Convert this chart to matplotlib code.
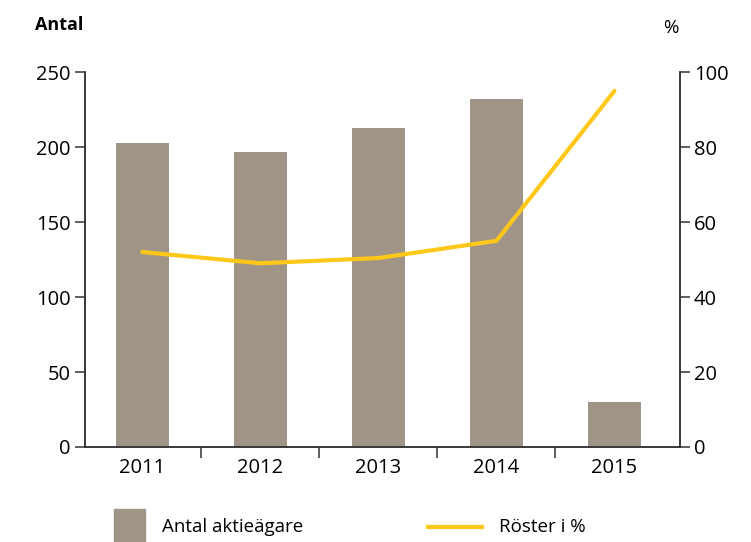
import matplotlib
matplotlib.use("Agg")
import matplotlib.pyplot as plt
from matplotlib.patches import Rectangle
from matplotlib.lines import Line2D
import numpy as np

plt.rcParams['font.family'] = ['Open Sans', 'DejaVu Sans']

years = ['2011', '2012', '2013', '2014', '2015']
antal = [203, 197, 213, 232, 30]
roster = [52, 49, 50.4, 55, 95]

bar_color = '#A09486'
line_color = '#FFC819'
spine_color = '#333333'

fig = plt.figure(figsize=(7.51, 5.42), dpi=100)
ax = fig.add_axes([0.113, 0.1753, 0.7925, 0.6917])
x = np.arange(len(years))
ax.bar(x, antal, width=0.45, color=bar_color, zorder=1)
ax.set_xlim(-0.487, len(years) - 0.445)
ax.set_ylim(0, 250)
ax.set_yticks([0, 50, 100, 150, 200, 250])

ax2 = ax.twinx()
ax2.plot(x, roster, color=line_color, lw=3, solid_capstyle='round',
         solid_joinstyle='miter', zorder=3)
ax2.set_ylim(0, 100)
ax2.set_yticks([0, 20, 40, 60, 80, 100])

for a in (ax, ax2):
    a.spines['top'].set_visible(False)
    for s in a.spines.values():
        s.set_color(spine_color)
        s.set_linewidth(1.1)
    a.tick_params(axis='y', length=7, width=1.1, color=spine_color,
                  labelsize=14.5, pad=3)

# category labels centred, ticks between categories
ax.set_xticks(x)
ax.set_xticklabels(years, fontsize=14.5)
ax.tick_params(axis='x', which='major', length=0, pad=8)
ax.set_xticks(np.arange(0.5, len(years) - 0.5), minor=True)
ax.tick_params(axis='x', which='minor', length=8, width=1.1, color=spine_color)

fig.text(0.047, 0.953, 'Antal', fontsize=13, fontweight='bold', va='center')
fig.text(0.883, 0.948, '%', fontsize=13.5, va='center')

# legend
fig.patches.append(Rectangle((114 / 751, 0), 31 / 751, 33 / 542,
                             transform=fig.transFigure, color=bar_color))
fig.text(162 / 751, 1 - 527 / 542, 'Antal aktieägare', fontsize=13.5, va='center')
fig.lines.append(Line2D([428 / 751, 482 / 751], [1 - 527 / 542] * 2,
                        transform=fig.transFigure, color=line_color, lw=3))
fig.text(499 / 751, 1 - 527 / 542, 'Röster i %', fontsize=13.5, va='center')

fig.savefig('out.png', dpi=100)
